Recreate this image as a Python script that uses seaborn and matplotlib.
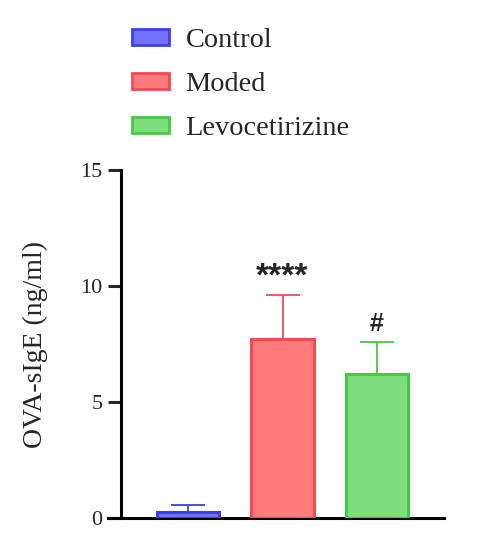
import matplotlib
matplotlib.use('Agg')
import matplotlib.pyplot as plt
import seaborn as sns
import pandas as pd
from matplotlib.patches import Patch

groups = ['Control', 'Moded', 'Levocetirizine']
means = [0.27, 7.72, 6.2]
sems = [0.3, 1.9, 1.4]
marks = ['', '****', '#']
face = ['#7272FA', '#FF7B7B', '#7EDE7E']
edge = ['#3F3FE6', '#F24A55', '#45C845']

sns.set_style('white')
plt.rcParams['font.family'] = ['Liberation Serif', 'DejaVu Serif']

fig = plt.figure(figsize=(4.83, 5.46), dpi=100)
ax = fig.add_axes([108/483, (546-518)/546, (444-108)/483, (518-170)/546])
df = pd.DataFrame({'group': groups, 'value': means})
sns.barplot(data=df, x='group', y='value', hue='group', palette=face,
            width=0.66, errorbar=None, legend=False, ax=ax, saturation=1)
for p, e in zip(ax.patches, edge):
    p.set_edgecolor(e)
    p.set_linewidth(2.2)
    p.set_zorder(3)

for i, (m, s, e) in enumerate(zip(means, sems, edge)):
    ax.errorbar(i, m, yerr=[[0], [s]], fmt='none', ecolor=e, elinewidth=1.3,
                capsize=12, capthick=1.3, zorder=2)

for i, (m, s, t) in enumerate(zip(means, sems, marks)):
    if t:
        star = t.startswith('*')
        ax.text(i, m + s + (0.08 if star else 0.25), t, ha='center', va='bottom',
                fontsize=24 if star else 18, fontweight='bold',
                family=['Liberation Sans', 'DejaVu Sans'])

ax.set_xlim(-0.85, 2.71)
ax.set_ylim(0, 15)
ax.set_yticks([0, 5, 10, 15])
ax.set_xticks([])
ax.set_xlabel('')
ax.set_ylabel('OVA-sIgE (ng/ml)', fontsize=20)
ax.yaxis.set_label_coords(-0.18, 0.5)
for sp in ['top', 'right']:
    ax.spines[sp].set_visible(False)
ax.spines['left'].set_position(('data', -0.71))
ax.spines['left'].set_linewidth(2.2)
ax.spines['bottom'].set_linewidth(2.2)
ax.spines['left'].set_color('black')
ax.spines['bottom'].set_color('black')
ax.tick_params(axis='y', length=9.5, width=2.2, direction='out', labelsize=16, pad=4, left=True)

handles = [Patch(facecolor=f, edgecolor=e, linewidth=2, label=g) for f, e, g in zip(face, edge, groups)]
fig.legend(handles=handles, loc='upper left', bbox_to_anchor=(121/483, 1 - 17/546),
           frameon=False, fontsize=20.4, labelspacing=0.67, handlelength=1.3,
           handleheight=0.5, handletextpad=0.58, borderaxespad=0)

fig.savefig('out.png', dpi=100)
